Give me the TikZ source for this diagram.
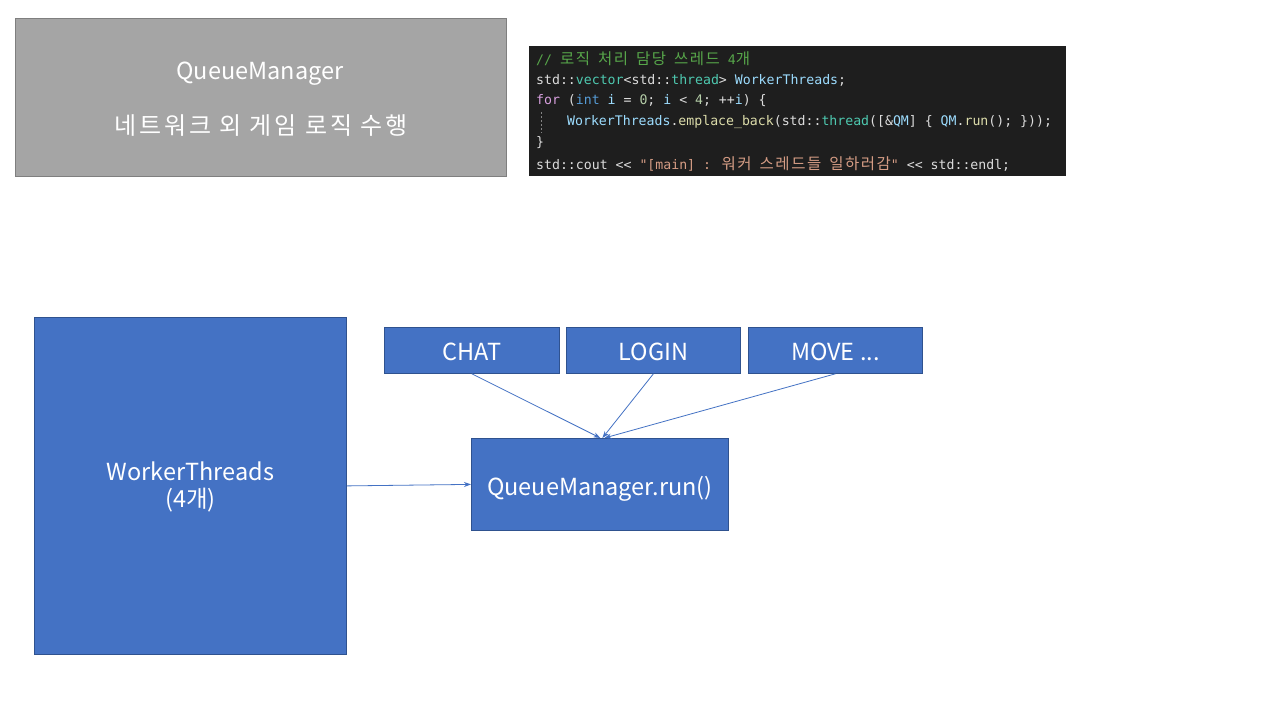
\documentclass[tikz,border=0pt]{standalone}
\usepackage{fontspec}
\setmainfont{Noto Sans CJK KR}
\newfontfamily\krwide[LetterSpace=12]{Noto Sans CJK KR}
\newfontfamily\codefont{DejaVu Sans Mono}
\newfontfamily\codekr[LetterSpace=10]{Noto Sans CJK KR}
\usetikzlibrary{arrows.meta,calc}
\definecolor{boxblue}{HTML}{4472C4}
\definecolor{boxblueline}{HTML}{2F528F}
\definecolor{graybox}{HTML}{A5A5A5}
\definecolor{graylin}{HTML}{7F7F7F}
\definecolor{codebg}{HTML}{1E1E1E}
\definecolor{cdef}{HTML}{DCDCDC}
\definecolor{ccom}{HTML}{57A64A}
\definecolor{ctype}{HTML}{4EC9B0}
\definecolor{cvar}{HTML}{9CDCFE}
\definecolor{ckw}{HTML}{D8A0DF}
\definecolor{ckw2}{HTML}{569CD6}
\definecolor{cnum}{HTML}{B5CEA8}
\definecolor{cfun}{HTML}{DCDCAA}
\definecolor{cstr}{HTML}{D69D85}
\newcommand{\ck}[2]{\textcolor{#1}{#2}}
\newcommand{\kr}[1]{{\codekr\fontsize{15.5}{15}\selectfont #1}}
\newcommand{\lowered}[2]{\raisebox{-#1pt}[0pt][0pt]{#2}}
\tikzset{
  bluebox/.style={draw=boxblueline, fill=boxblue, line width=0.8pt, text=white, inner sep=0pt, align=center, font=\fontsize{23.5}{27}\selectfont},
  graybx/.style={draw=graylin, fill=graybox, line width=0.8pt, inner sep=0pt},
  codeline/.style={anchor=west, inner sep=0pt, text=cdef, font=\codefont\fontsize{13.2}{15}\selectfont},
  arr/.style={draw=boxblue, line width=0.8pt, -{Stealth[length=7pt,width=5pt]}},
  wtext/.style={text=white, inner sep=0pt}
}
\begin{document}
\begin{tikzpicture}[x=1pt,y=-1pt]
\useasboundingbox (0,0) rectangle (1280,720);
\fill[white] (0,0) rectangle (1280,720);
% gray box
\node[graybx, minimum width=491pt, minimum height=158pt, anchor=north west] (qmbox) at (15,18) {};
\node[wtext, font=\fontsize{23.5}{27}\selectfont] (qmtitle) at (260,74) {QueueManager};
\node[wtext, font=\krwide\fontsize{24}{27}\selectfont] (qmdesc) at (261,126) {네트워크 외 게임 로직 수행};
% code block
\node[fill=codebg, minimum width=537pt, minimum height=130pt, anchor=north west, inner sep=0pt] (code) at (529,46) {};
\node[codeline] (l1) at (536,59) {\ck{ccom}{// \kr{로직} \kr{처리} \kr{담당} \kr{쓰레드} 4\kr{개}}};
\node[codeline] (l2) at (536,80) {std::\ck{ctype}{vector}<std::\ck{ctype}{thread}> \ck{cvar}{WorkerThreads};};
\node[codeline] (l3) at (536,101) {\ck{ckw}{for} (\ck{ckw2}{int} \ck{cvar}{i} = \ck{cnum}{0}; \ck{cvar}{i} < \ck{cnum}{4}; ++\ck{cvar}{i}) \{};
\node[codeline] (l4) at (567,122) {\ck{cvar}{WorkerThreads}.\ck{cfun}{emplace\_back}(std::\ck{ctype}{thread}([\&\ck{cvar}{QM}] \{ \ck{cvar}{QM}.\ck{cfun}{run}(); \}));};
\node[codeline] (l5) at (536,143) {\}};
\node[codeline] (l6) at (536,164) {std::cout << \ck{cstr}{"[main] : \kr{워커} \kr{스레드들} \kr{일하러감}"} << std::endl;};
\draw[cdef!60!black, line width=0.6pt, dash pattern=on 2pt off 2pt] (541,112) -- (541,133);
% blue boxes
\node[bluebox, minimum width=312pt, minimum height=337pt, anchor=north west] (wt) at (34,317) {\lowered{21.5}{\shortstack{WorkerThreads\\[4pt](4개)}}};
\node[bluebox, minimum width=175pt, minimum height=46pt, anchor=north west] (chat) at (384,327) {\lowered{9.6}{CHAT}};
\node[bluebox, minimum width=174pt, minimum height=46pt, anchor=north west] (login) at (566,327) {\lowered{9.6}{LOGIN}};
\node[bluebox, minimum width=174pt, minimum height=46pt, anchor=north west] (move) at (748,327) {\lowered{9.6}{MOVE ...}};
\node[bluebox, minimum width=257pt, minimum height=92pt, anchor=north west] (qm) at (471,438) {\lowered{11}{QueueManager.run()}};
% arrows
\draw[arr] (chat.south) -- ($(qm.north)+(0.5,0)$);
\draw[arr] (login.south) -- ($(qm.north)+(2.5,0)$);
\draw[arr] (move.south) -- ($(qm.north)+(4.5,0)$);
\draw[arr] (wt.east) -- (qm.west);
\end{tikzpicture}
\end{document}
